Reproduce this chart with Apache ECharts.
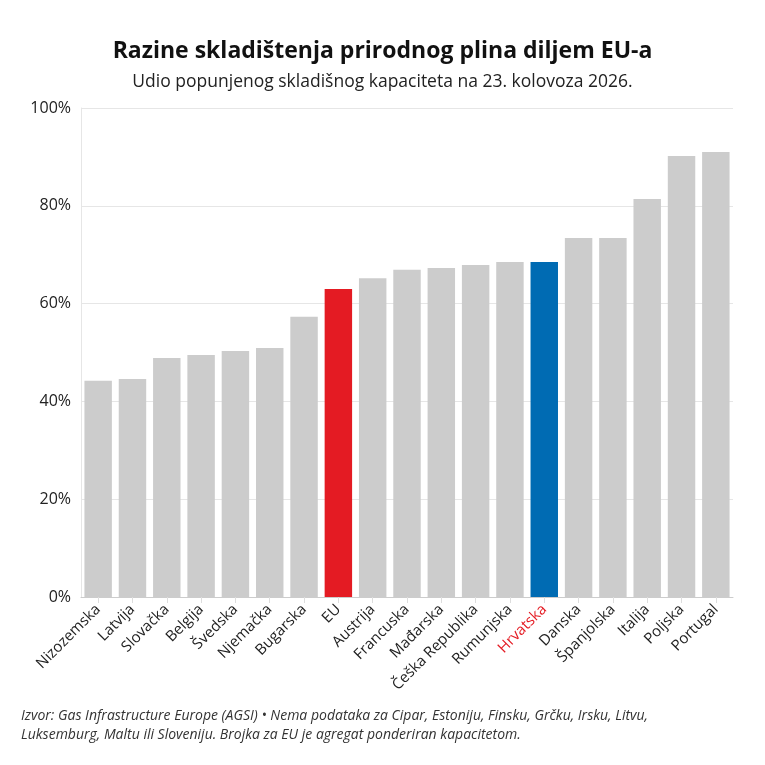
<!DOCTYPE html>
<html>
<head>
<meta charset="utf-8">
<script src="https://cdn.jsdelivr.net/npm/echarts@6/dist/echarts.min.js"></script>
<style>
  html, body { margin: 0; padding: 0; background: #fff; }
  #root { width: 765px; height: 765px; }
</style>
</head>
<body>
<div id="root"></div>
<script>
  var countries = ['Nizozemska', 'Latvija', 'Slovačka', 'Belgija', 'Švedska', 'Njemačka', 'Bugarska', 'EU',
    'Austrija', 'Francuska', 'Mađarska', 'Češka Republika', 'Rumunjska', 'Hrvatska', 'Danska',
    'Španjolska', 'Italija', 'Poljska', 'Portugal'];
  var fillLevel = [44.2, 44.6, 48.9, 49.5, 50.3, 50.9, 57.3, 63.0, 65.2, 66.9, 67.3, 67.9, 68.5, 68.5,
    73.4, 73.4, 81.4, 90.2, 91.0];
  var yTicks = [0, 20, 40, 60, 80, 100];

  var FONT = '"Open Sans", sans-serif';
  var colorOf = function (name) {
    if (name === 'EU') return '#e41b23';
    if (name === 'Hrvatska') return '#006bb3';
    return '#cccccc';
  };

  var chart = echarts.init(document.getElementById('root'));
  chart.setOption({
    backgroundColor: '#fff',
    animation: false,
    title: [
      {
        text: 'Razine skladištenja prirodnog plina diljem EU-a',
        left: 'center',
        top: 35,
        textStyle: { fontFamily: FONT, fontWeight: 'bold', fontSize: 23, color: '#111' }
      },
      {
        text: 'Udio popunjenog skladišnog kapaciteta na 23. kolovoza 2026.',
        left: 'center',
        top: 68,
        textStyle: { fontFamily: FONT, fontWeight: 'normal', fontSize: 17.5, color: '#222' }
      },
      {
        text: 'Izvor: Gas Infrastructure Europe (AGSI) • Nema podataka za Cipar, Estoniju, Finsku, Grčku, Irsku, Litvu,\nLuksemburg, Maltu ili Sloveniju. Brojka za EU je agregat ponderiran kapacitetom.',
        left: 16,
        top: 702,
        textStyle: { fontFamily: FONT, fontStyle: 'italic', fontWeight: 'normal', fontSize: 14, lineHeight: 19, color: '#333' }
      }
    ],
    grid: { left: 81, right: 32, top: 108, bottom: 168, containLabel: false },
    xAxis: {
      type: 'category',
      data: countries.map(function (c) {
        return c === 'Hrvatska' ? { value: c, textStyle: { color: '#e41b23' } } : c;
      }),
      axisLine: { show: true, lineStyle: { color: '#cccccc' } },
      axisTick: { show: true, alignWithLabel: true, length: 6, lineStyle: { color: '#dddddd' } },
      axisLabel: { interval: 0, rotate: 45, fontFamily: FONT, fontSize: 15, color: '#222', margin: 10 }
    },
    yAxis: {
      type: 'value',
      min: yTicks[0],
      max: yTicks[yTicks.length - 1],
      interval: 20,
      axisLine: { show: true, lineStyle: { color: '#e6e6e6' } },
      axisTick: { show: false },
      splitLine: { lineStyle: { color: '#e6e6e6' } },
      axisLabel: { formatter: '{value}%', fontFamily: FONT, fontSize: 16, color: '#222', margin: 10 }
    },
    series: [{
      type: 'bar',
      barCategoryGap: '20%',
      data: fillLevel.map(function (v, i) {
        return { value: v, itemStyle: { color: colorOf(countries[i]) } };
      })
    }]
  });
</script>
</body>
</html>
